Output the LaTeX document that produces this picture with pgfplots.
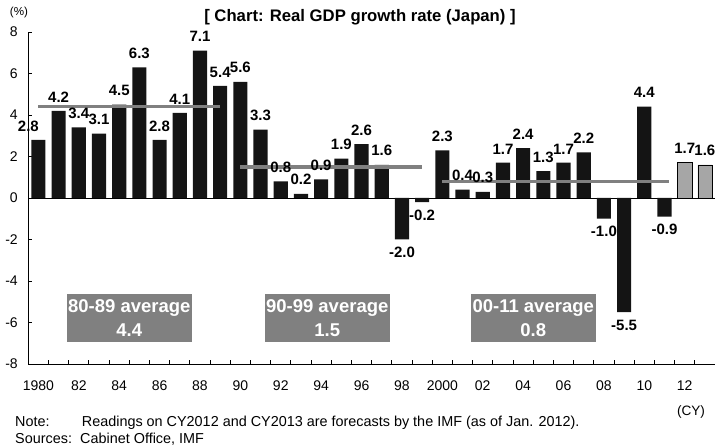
\documentclass[border=0pt]{standalone}
\usepackage{pgfplots}
\pgfplotsset{compat=1.18}
\usepackage{fontspec}
\setmainfont{Liberation Sans}
\definecolor{barblack}{HTML}{141414}
\definecolor{fcgray}{HTML}{A6A6A6}
\definecolor{avggray}{HTML}{808080}
\pgfplotstableread{
x y lab dx
1980 2.8 2.8 -10
1981 4.2 4.2 0
1982 3.4 3.4 0
1983 3.1 3.1 0
1984 4.5 4.5 0
1985 6.3 6.3 0
1986 2.8 2.8 0
1987 4.1 4.1 0
1988 7.1 7.1 0
1989 5.4 5.4 0
1990 5.6 5.6 0
1991 3.3 3.3 0
1992 0.8 0.8 0
1993 0.2 0.2 0
1994 0.9 0.9 0
1995 1.9 1.9 0
1996 2.6 2.6 0
1997 1.6 1.6 0
2000 2.3 2.3 0
2001 0.4 0.4 0
2002 0.3 0.3 0
2003 1.7 1.7 0
2004 2.4 2.4 0
2005 1.3 1.3 0
2006 1.7 1.7 0
2007 2.2 2.2 0
2010 4.4 4.4 0
}\actualpos
\pgfplotstableread{
x y lab
1998 -2.0 -2.0
1999 -0.2 -0.2
2008 -1.0 -1.0
2009 -5.5 -5.5
2011 -0.9 -0.9
}\actualneg
\pgfplotstableread{
x y lab
2012 1.7 1.7
2013 1.6 1.6
}\forecast
\begin{document}
\begin{tikzpicture}
\path[use as bounding box] (-28.3pt,-83pt) rectangle (686.7pt,364pt);
\begin{axis}[
  scale only axis, width=686.7pt, height=332pt,
  xmin=1979.5, xmax=2013.5, ymin=-8, ymax=8,
  axis x line*=bottom, axis y line*=left,
  axis line style={-, line width=0.8pt, black},
  ytick={-8,-6,...,8},
  xtick={1979.5,1980.5,...,2013.5},
  xticklabels={},
  extra x ticks={1980,1982,...,2012},
  extra x tick labels={1980,82,84,86,88,90,92,94,96,98,2000,02,04,06,08,10,12},
  extra x tick style={major tick length=0pt, grid=none},
  tick align=inside,
  major tick length=4pt,
  tick style={black, line width=0.8pt},
  ticklabel style={font=\fontsize{14}{16}\selectfont},
  /pgf/number format/assume math mode=true,
  yticklabel style={xshift=-7pt},
  xticklabel style={yshift=-13pt},
  clip=false,
]
\draw[black, line width=0.8pt] (axis cs:1979.5,0) -- (axis cs:2013.5,0);
\addplot[ybar, bar width=0.7, fill=barblack, draw=none,
  point meta=explicit symbolic,
  visualization depends on={\thisrow{dx} \as \dx},
  nodes near coords,
  nodes near coords style={font=\bfseries\fontsize{15}{17}\selectfont, anchor=south, xshift=\dx pt, yshift=8.5pt, inner sep=0pt}]
  table[x=x, y=y, meta=lab] {\actualpos};
\addplot[ybar, bar width=0.7, fill=barblack, draw=none,
  point meta=explicit symbolic,
  nodes near coords,
  nodes near coords style={font=\bfseries\fontsize{15}{17}\selectfont, anchor=north, yshift=-7.5pt, inner sep=0pt}]
  table[x=x, y=y, meta=lab] {\actualneg};
\addplot[ybar, bar width=0.7, fill=fcgray, draw=black, line width=0.5pt,
  point meta=explicit symbolic,
  nodes near coords,
  nodes near coords style={font=\bfseries\fontsize{15}{17}\selectfont, anchor=south, yshift=8.5pt, inner sep=0pt}]
  table[x=x, y=y, meta=lab] {\forecast};
\addplot[avggray, line width=3.5pt, no markers] coordinates {(1980,4.4) (1989,4.4)};
\addplot[avggray, line width=3.5pt, no markers] coordinates {(1990,1.5) (1999,1.5)};
\addplot[avggray, line width=3.5pt, no markers] coordinates {(2000,0.8) (2011.2,0.8)};
\fill[avggray] (axis cs:1981.4,-4.63) rectangle (axis cs:1987.6,-6.93);
\fill[avggray] (axis cs:1991.2,-4.63) rectangle (axis cs:1997.4,-6.93);
\fill[avggray] (axis cs:2001.4,-4.63) rectangle (axis cs:2007.6,-6.93);
\node[white, font=\bfseries\fontsize{18.5}{24}\selectfont, align=center] at (axis cs:1984.5,-5.8) {80-89 average\\4.4};
\node[white, font=\bfseries\fontsize{18.5}{24}\selectfont, align=center] at (axis cs:1994.3,-5.8) {90-99 average\\1.5};
\node[white, font=\bfseries\fontsize{18.5}{24}\selectfont, align=center] at (axis cs:2004.5,-5.8) {00-11 average\\0.8};
\end{axis}
\node[font=\bfseries\fontsize{16.7}{19}\selectfont] at (331.7pt,347pt) {[ Chart: Real GDP growth rate (Japan) ]};
\node[font=\fontsize{11.6}{13}\selectfont] at (-9.3pt,351pt) {(\%)};
\node[font=\fontsize{13.6}{15}\selectfont] at (662.7pt,-48pt) {(CY)};
\node[font=\fontsize{14.4}{16}\selectfont, anchor=base west, inner sep=0pt] at (-13.3pt,-62.7pt) {Note:};
\node[font=\fontsize{14.4}{16}\selectfont, anchor=base west, inner sep=0pt] at (53.4pt,-62.7pt) {Readings on CY2012 and CY2013 are forecasts by the IMF (as of Jan. 2012).};
\node[font=\fontsize{14.4}{16}\selectfont, anchor=base west, inner sep=0pt] at (-13.3pt,-79.3pt) {Sources:};
\node[font=\fontsize{14.4}{16}\selectfont, anchor=base west, inner sep=0pt] at (51.7pt,-79.3pt) {Cabinet Office, IMF};
\end{tikzpicture}
\end{document}
